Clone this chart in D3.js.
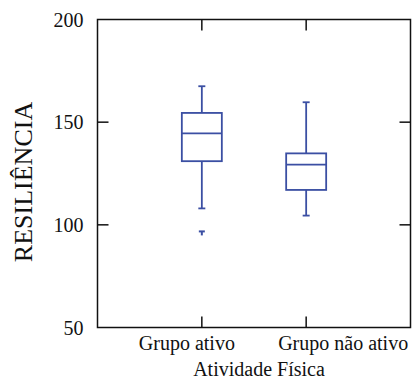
<!DOCTYPE html>
<html>
<head>
<meta charset="utf-8">
<script src="https://cdn.jsdelivr.net/npm/d3@7"></script>
<style>
  body { margin: 0; background: #fff; }
</style>
</head>
<body>
<svg id="chart"></svg>
<script>
// Data
const groups = ["Grupo ativo", "Grupo não ativo"];
const whiskerLow = [108, 104.5];
const q1 = [131, 117];
const median = [144.5, 129.3];
const q3 = [154.5, 134.8];
const whiskerHigh = [167.5, 159.7];
const outliers = [[96.8], []];
const yTicks = [50, 100, 150, 200];
const labelShift = [-15, 37];   // category labels sit off their ticks in the original

const width = 415, height = 380;
const margin = {top: 19.5, right: 4.5, bottom: 52.5, left: 97.5};
const blue = "#3b4fa3";
const serif = "'Liberation Serif', 'Times New Roman', Times, 'DejaVu Serif', serif";

const svg = d3.select("#chart").attr("width", width).attr("height", height)
    .style("font-family", serif);

const x = d3.scaleLinear().domain([0, 3]).range([margin.left, width - margin.right]);
const y = d3.scaleLinear().domain([50, 200]).range([height - margin.bottom, margin.top]);

// Frame
svg.append("rect")
    .attr("x", x(0)).attr("y", y(200))
    .attr("width", x(3) - x(0)).attr("height", y(50) - y(200))
    .attr("fill", "none").attr("stroke", "#111").attr("stroke-width", 1.5);

// Inward ticks on all four sides
const tickLen = 11;
const inner = yTicks.filter(d => d > 50 && d < 200);
svg.selectAll(".ytl").data(inner).enter().append("line")
    .attr("x1", x(0)).attr("x2", x(0) + tickLen)
    .attr("y1", d => y(d)).attr("y2", d => y(d))
    .attr("stroke", "#111").attr("stroke-width", 1.5);
svg.selectAll(".ytr").data(inner).enter().append("line")
    .attr("x1", x(3)).attr("x2", x(3) - tickLen)
    .attr("y1", d => y(d)).attr("y2", d => y(d))
    .attr("stroke", "#111").attr("stroke-width", 1.5);
svg.selectAll(".xtb").data(groups).enter().append("line")
    .attr("x1", (d, i) => x(i + 1)).attr("x2", (d, i) => x(i + 1))
    .attr("y1", y(50)).attr("y2", y(50) - tickLen)
    .attr("stroke", "#111").attr("stroke-width", 1.5);
svg.selectAll(".xtt").data(groups).enter().append("line")
    .attr("x1", (d, i) => x(i + 1)).attr("x2", (d, i) => x(i + 1))
    .attr("y1", y(200)).attr("y2", y(200) + tickLen)
    .attr("stroke", "#111").attr("stroke-width", 1.5);

// Tick labels
svg.selectAll(".ylab").data(yTicks).enter().append("text")
    .attr("x", x(0) - 14).attr("y", d => y(d))
    .attr("dy", "0.35em")
    .attr("text-anchor", "end")
    .style("font-family", serif)
    .style("font-size", "20px")
    .style("fill", "#111")
    .text(d => d);

svg.selectAll(".xlab").data(groups).enter().append("text")
    .attr("x", (d, i) => x(i + 1) + labelShift[i]).attr("y", y(50) + 22)
    .attr("text-anchor", "middle")
    .style("font-family", serif)
    .style("font-size", "20px")
    .style("fill", "#111")
    .text(d => d);

// Axis titles
svg.append("text")
    .attr("x", 259).attr("y", 376)
    .attr("text-anchor", "middle")
    .style("font-family", serif)
    .style("font-size", "20px")
    .style("fill", "#111")
    .text("Atividade Física");

svg.append("text")
    .attr("transform", "translate(32,182) rotate(-90)")
    .attr("text-anchor", "middle")
    .style("font-family", serif)
    .style("font-size", "26px")
    .style("fill", "#111")
    .text("RESILIÊNCIA");

// Boxes
const boxW = 40, capW = 7;
const g = svg.selectAll(".box").data(groups).enter().append("g")
    .attr("stroke", blue).attr("stroke-width", 1.8).attr("fill", "none");

g.append("line")   // upper whisker
    .attr("x1", (d, i) => x(i + 1)).attr("x2", (d, i) => x(i + 1))
    .attr("y1", (d, i) => y(q3[i])).attr("y2", (d, i) => y(whiskerHigh[i]));
g.append("line")   // lower whisker
    .attr("x1", (d, i) => x(i + 1)).attr("x2", (d, i) => x(i + 1))
    .attr("y1", (d, i) => y(q1[i])).attr("y2", (d, i) => y(whiskerLow[i]));
g.append("line")
    .attr("x1", (d, i) => x(i + 1) - capW / 2).attr("x2", (d, i) => x(i + 1) + capW / 2)
    .attr("y1", (d, i) => y(whiskerHigh[i])).attr("y2", (d, i) => y(whiskerHigh[i]));
g.append("line")
    .attr("x1", (d, i) => x(i + 1) - capW / 2).attr("x2", (d, i) => x(i + 1) + capW / 2)
    .attr("y1", (d, i) => y(whiskerLow[i])).attr("y2", (d, i) => y(whiskerLow[i]));
g.append("rect")
    .attr("x", (d, i) => x(i + 1) - boxW / 2).attr("width", boxW)
    .attr("y", (d, i) => y(q3[i])).attr("height", (d, i) => y(q1[i]) - y(q3[i]))
    .attr("fill", "#fff");
g.append("line")
    .attr("x1", (d, i) => x(i + 1) - boxW / 2).attr("x2", (d, i) => x(i + 1) + boxW / 2)
    .attr("y1", (d, i) => y(median[i])).attr("y2", (d, i) => y(median[i]));

// Outliers drawn as a small T mark
groups.forEach((grp, i) => {
    outliers[i].forEach(v => {
        svg.append("line")
            .attr("x1", x(i + 1) - 3).attr("x2", x(i + 1) + 3)
            .attr("y1", y(v)).attr("y2", y(v))
            .attr("stroke", blue).attr("stroke-width", 2);
        svg.append("line")
            .attr("x1", x(i + 1)).attr("x2", x(i + 1))
            .attr("y1", y(v)).attr("y2", y(v) + 4)
            .attr("stroke", blue).attr("stroke-width", 2);
    });
});
</script>
</body>
</html>
